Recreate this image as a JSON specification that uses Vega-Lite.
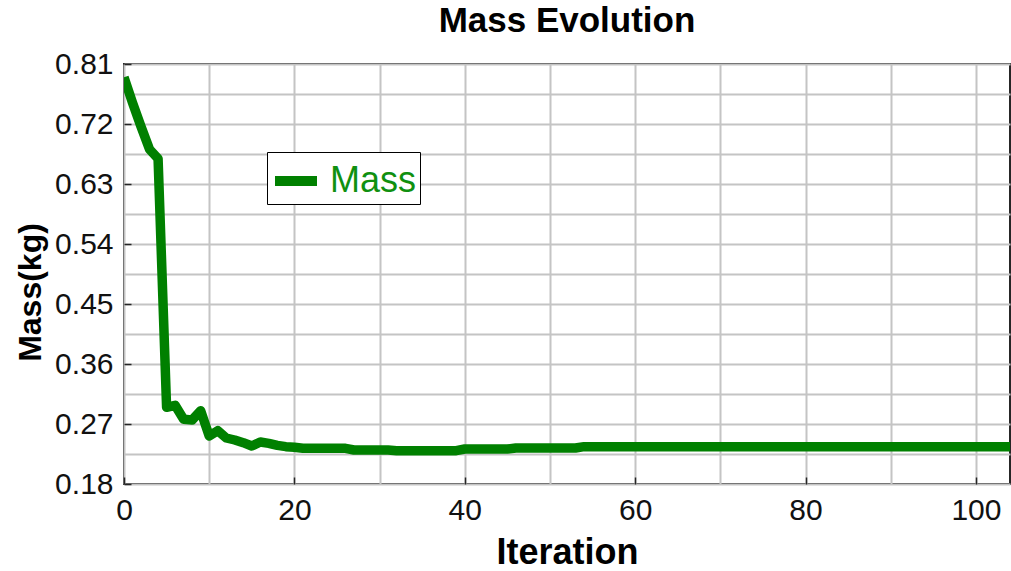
{
  "$schema": "https://vega.github.io/schema/vega-lite/v6.json",
  "width": 886,
  "height": 420,
  "autosize": {"type": "none"},
  "padding": {"left": 124, "top": 64, "right": 1, "bottom": 87},
  "background": "white",
  "title": {"text": "Mass Evolution", "font": "Liberation Sans", "fontSize": 35, "fontWeight": "bold", "color": "black", "anchor": "middle", "offset": 10},
  "config": {
    "view": {"stroke": "#262626", "strokeWidth": 2},
    "axis": {"domain": false, "gridColor": "#c4c4c4", "gridWidth": 2, "gridOpacity": 1, "tickColor": "#262626", "tickWidth": 1.5, "tickSize": -7, "labelFont": "Liberation Sans", "labelFontSize": 30, "labelColor": "#111", "titleFont": "Liberation Sans", "titleFontWeight": "bold", "titleColor": "black"}
  },
  "data": {"values": [
    {"iteration": 0, "mass": 0.790, "series": "Mass"},
    {"iteration": 1, "mass": 0.752, "series": "Mass"},
    {"iteration": 2, "mass": 0.716, "series": "Mass"},
    {"iteration": 3, "mass": 0.682, "series": "Mass"},
    {"iteration": 4, "mass": 0.668, "series": "Mass"},
    {"iteration": 5, "mass": 0.295, "series": "Mass"},
    {"iteration": 6, "mass": 0.298, "series": "Mass"},
    {"iteration": 7, "mass": 0.277, "series": "Mass"},
    {"iteration": 8, "mass": 0.276, "series": "Mass"},
    {"iteration": 9, "mass": 0.290, "series": "Mass"},
    {"iteration": 10, "mass": 0.252, "series": "Mass"},
    {"iteration": 11, "mass": 0.260, "series": "Mass"},
    {"iteration": 12, "mass": 0.249, "series": "Mass"},
    {"iteration": 13, "mass": 0.246, "series": "Mass"},
    {"iteration": 14, "mass": 0.242, "series": "Mass"},
    {"iteration": 15, "mass": 0.237, "series": "Mass"},
    {"iteration": 16, "mass": 0.243, "series": "Mass"},
    {"iteration": 17, "mass": 0.241, "series": "Mass"},
    {"iteration": 18, "mass": 0.238, "series": "Mass"},
    {"iteration": 19, "mass": 0.236, "series": "Mass"},
    {"iteration": 20, "mass": 0.235, "series": "Mass"},
    {"iteration": 21, "mass": 0.2335, "series": "Mass"},
    {"iteration": 22, "mass": 0.2335, "series": "Mass"},
    {"iteration": 23, "mass": 0.2335, "series": "Mass"},
    {"iteration": 24, "mass": 0.2335, "series": "Mass"},
    {"iteration": 25, "mass": 0.2335, "series": "Mass"},
    {"iteration": 26, "mass": 0.2335, "series": "Mass"},
    {"iteration": 27, "mass": 0.231, "series": "Mass"},
    {"iteration": 28, "mass": 0.231, "series": "Mass"},
    {"iteration": 29, "mass": 0.231, "series": "Mass"},
    {"iteration": 30, "mass": 0.231, "series": "Mass"},
    {"iteration": 31, "mass": 0.231, "series": "Mass"},
    {"iteration": 32, "mass": 0.230, "series": "Mass"},
    {"iteration": 33, "mass": 0.230, "series": "Mass"},
    {"iteration": 34, "mass": 0.230, "series": "Mass"},
    {"iteration": 35, "mass": 0.230, "series": "Mass"},
    {"iteration": 36, "mass": 0.230, "series": "Mass"},
    {"iteration": 37, "mass": 0.230, "series": "Mass"},
    {"iteration": 38, "mass": 0.230, "series": "Mass"},
    {"iteration": 39, "mass": 0.230, "series": "Mass"},
    {"iteration": 40, "mass": 0.2325, "series": "Mass"},
    {"iteration": 41, "mass": 0.2325, "series": "Mass"},
    {"iteration": 42, "mass": 0.2325, "series": "Mass"},
    {"iteration": 43, "mass": 0.2325, "series": "Mass"},
    {"iteration": 44, "mass": 0.2325, "series": "Mass"},
    {"iteration": 45, "mass": 0.2325, "series": "Mass"},
    {"iteration": 46, "mass": 0.234, "series": "Mass"},
    {"iteration": 47, "mass": 0.234, "series": "Mass"},
    {"iteration": 48, "mass": 0.234, "series": "Mass"},
    {"iteration": 49, "mass": 0.234, "series": "Mass"},
    {"iteration": 50, "mass": 0.234, "series": "Mass"},
    {"iteration": 51, "mass": 0.234, "series": "Mass"},
    {"iteration": 52, "mass": 0.234, "series": "Mass"},
    {"iteration": 53, "mass": 0.234, "series": "Mass"},
    {"iteration": 54, "mass": 0.236, "series": "Mass"},
    {"iteration": 55, "mass": 0.236, "series": "Mass"},
    {"iteration": 56, "mass": 0.236, "series": "Mass"},
    {"iteration": 57, "mass": 0.236, "series": "Mass"},
    {"iteration": 58, "mass": 0.236, "series": "Mass"},
    {"iteration": 59, "mass": 0.236, "series": "Mass"},
    {"iteration": 60, "mass": 0.236, "series": "Mass"},
    {"iteration": 61, "mass": 0.236, "series": "Mass"},
    {"iteration": 62, "mass": 0.236, "series": "Mass"},
    {"iteration": 63, "mass": 0.236, "series": "Mass"},
    {"iteration": 64, "mass": 0.236, "series": "Mass"},
    {"iteration": 65, "mass": 0.236, "series": "Mass"},
    {"iteration": 66, "mass": 0.236, "series": "Mass"},
    {"iteration": 67, "mass": 0.236, "series": "Mass"},
    {"iteration": 68, "mass": 0.236, "series": "Mass"},
    {"iteration": 69, "mass": 0.236, "series": "Mass"},
    {"iteration": 70, "mass": 0.236, "series": "Mass"},
    {"iteration": 71, "mass": 0.236, "series": "Mass"},
    {"iteration": 72, "mass": 0.236, "series": "Mass"},
    {"iteration": 73, "mass": 0.236, "series": "Mass"},
    {"iteration": 74, "mass": 0.236, "series": "Mass"},
    {"iteration": 75, "mass": 0.236, "series": "Mass"},
    {"iteration": 76, "mass": 0.236, "series": "Mass"},
    {"iteration": 77, "mass": 0.236, "series": "Mass"},
    {"iteration": 78, "mass": 0.236, "series": "Mass"},
    {"iteration": 79, "mass": 0.236, "series": "Mass"},
    {"iteration": 80, "mass": 0.236, "series": "Mass"},
    {"iteration": 81, "mass": 0.236, "series": "Mass"},
    {"iteration": 82, "mass": 0.236, "series": "Mass"},
    {"iteration": 83, "mass": 0.236, "series": "Mass"},
    {"iteration": 84, "mass": 0.236, "series": "Mass"},
    {"iteration": 85, "mass": 0.236, "series": "Mass"},
    {"iteration": 86, "mass": 0.236, "series": "Mass"},
    {"iteration": 87, "mass": 0.236, "series": "Mass"},
    {"iteration": 88, "mass": 0.236, "series": "Mass"},
    {"iteration": 89, "mass": 0.236, "series": "Mass"},
    {"iteration": 90, "mass": 0.236, "series": "Mass"},
    {"iteration": 91, "mass": 0.236, "series": "Mass"},
    {"iteration": 92, "mass": 0.236, "series": "Mass"},
    {"iteration": 93, "mass": 0.236, "series": "Mass"},
    {"iteration": 94, "mass": 0.236, "series": "Mass"},
    {"iteration": 95, "mass": 0.236, "series": "Mass"},
    {"iteration": 96, "mass": 0.236, "series": "Mass"},
    {"iteration": 97, "mass": 0.236, "series": "Mass"},
    {"iteration": 98, "mass": 0.236, "series": "Mass"},
    {"iteration": 99, "mass": 0.236, "series": "Mass"},
    {"iteration": 100, "mass": 0.236, "series": "Mass"},
    {"iteration": 101, "mass": 0.236, "series": "Mass"},
    {"iteration": 102, "mass": 0.236, "series": "Mass"},
    {"iteration": 103, "mass": 0.236, "series": "Mass"},
    {"iteration": 104, "mass": 0.236, "series": "Mass"}
  ]},
  "mark": {"type": "line", "strokeWidth": 9.5, "strokeJoin": "round", "strokeCap": "butt", "clip": true},
  "encoding": {
    "x": {
      "field": "iteration", "type": "quantitative",
      "scale": {"domain": [0, 104], "nice": false, "zero": false},
      "axis": {
        "title": "Iteration", "titleFontSize": 36, "titleY": 79, "titleBaseline": "alphabetic",
        "values": [0, 10, 20, 30, 40, 50, 60, 70, 80, 90, 100],
        "labelExpr": "datum.value % 20 == 0 ? datum.label : ''",
        "labelPadding": 18, "labelFlush": false, "labelOverlap": false,
        "tickOpacity": {"condition": {"test": "datum.value % 20 == 0", "value": 1}, "value": 0}
      }
    },
    "y": {
      "field": "mass", "type": "quantitative",
      "scale": {"domain": [0.18, 0.81], "nice": false, "zero": false},
      "axis": {
        "title": "Mass(kg)", "titleFontSize": 32, "titleX": -84, "titleY": 228, "titleAngle": 270, "titleAlign": "center", "titleBaseline": "alphabetic",
        "values": [0.18, 0.225, 0.27, 0.315, 0.36, 0.405, 0.45, 0.495, 0.54, 0.585, 0.63, 0.675, 0.72, 0.765, 0.81],
        "labelExpr": "round(datum.value * 1000) % 90 == 0 ? format(datum.value, '.2f') : ''",
        "labelPadding": 18, "labelFlush": false, "labelOverlap": false,
        "tickOpacity": {"condition": {"test": "round(datum.value * 1000) % 90 == 0", "value": 1}, "value": 0}
      }
    },
    "color": {
      "field": "series", "type": "nominal",
      "scale": {"range": ["#008000"]},
      "legend": {
        "title": null, "orient": "none", "legendX": 143, "legendY": 88,
        "symbolType": "stroke", "symbolSize": 1764, "symbolStrokeWidth": 10,
        "labelFont": "Liberation Sans", "labelFontSize": 36, "labelColor": "#109010", "labelOffset": 8,
        "strokeColor": "black", "fillColor": "white", "padding": 3, "cornerRadius": 0
      }
    }
  }
}
